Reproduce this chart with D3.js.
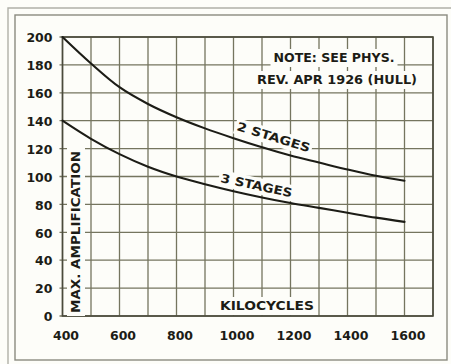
<!DOCTYPE html>
<html>
<head>
<meta charset="utf-8">
<script src="https://cdn.jsdelivr.net/npm/d3@7"></script>
<style>
  html, body { margin: 0; padding: 0; background: #fdfdf9; }
  svg { display: block; }
  text { font-family: "DejaVu Sans", sans-serif; font-weight: bold; fill: #1c1c16; }
</style>
</head>
<body>
<svg id="chart" width="451" height="364"></svg>
<script>
// Frequency (kilocycles) and maximum amplification for two and three stages
const freqs = [400, 500, 600, 700, 800, 900, 1000, 1100, 1200, 1300, 1400, 1500, 1600];
const twoStages = [200, 181, 164, 152, 142.5, 134.5, 127.5, 121, 115, 110, 105, 100.5, 97];
const threeStages = [140, 127, 116, 107, 100, 94.5, 89.5, 85, 81, 77.5, 74, 70.5, 67.5];
const xTickLabels = [400, 600, 800, 1000, 1200, 1400, 1600];
const yTickLabels = [0, 20, 40, 60, 80, 100, 120, 140, 160, 180, 200];
const xGrid = d3.range(400, 1701, 100);
const yGrid = d3.range(0, 201, 20);

const svg = d3.select("#chart");
const ink = "#1c1c16";
const gridColor = "#75755f";
const paper = "#fdfdf9";

// Frame lines around the figure
const frame = svg.append("g").attr("fill", "none").attr("stroke", "#8a8a80").attr("stroke-width", 1.4);
frame.append("rect").attr("x", 15).attr("y", 15).attr("width", 432).attr("height", 345);
frame.append("path").attr("d", "M8,364 L8,8 L451,8").attr("stroke", "#b0b0a8");

const x = d3.scaleLinear().domain([400, 1700]).range([62.5, 433]);
const y = d3.scaleLinear().domain([0, 200]).range([316, 37]);

// Grid
const grid = svg.append("g").attr("stroke", gridColor).attr("stroke-width", 1.3);
grid.selectAll("line.v").data(xGrid).join("line")
  .attr("x1", d => x(d)).attr("x2", d => x(d))
  .attr("y1", y(0)).attr("y2", y(200));
grid.selectAll("line.h").data(yGrid).join("line")
  .attr("x1", x(400) - 3).attr("x2", x(1700))
  .attr("y1", d => y(d)).attr("y2", d => y(d));

// Plot border a touch heavier
const axes = svg.append("g").attr("stroke", "#4a4a3c").attr("stroke-width", 1.6).attr("fill", "none");
axes.append("rect").attr("x", x(400)).attr("y", y(200))
  .attr("width", x(1700) - x(400)).attr("height", y(0) - y(200));

// Tick labels
const yAxis = d3.axisLeft(y).tickValues(yTickLabels).tickSize(0).tickPadding(10);
const yg = svg.append("g").attr("transform", `translate(${x(400)},0)`).call(yAxis);
yg.select(".domain").remove();
yg.selectAll("text").attr("font-size", 12.5).attr("font-family", "DejaVu Sans").attr("fill", ink)
  .attr("font-weight", "bold").attr("dy", "0.38em");

const xAxis = d3.axisBottom(x).tickValues(xTickLabels).tickSize(0).tickPadding(15).tickFormat(d3.format("d"));
const xg = svg.append("g").attr("transform", `translate(0,${y(0)})`).call(xAxis);
xg.select(".domain").remove();
xg.selectAll("text").attr("font-size", 12.5).attr("font-family", "DejaVu Sans").attr("fill", ink)
  .attr("font-weight", "bold").attr("dx", 3);

// Text with a blank backing that interrupts the grid
function label(g, opts) {
  const grp = g.append("g").attr("transform", opts.transform || null);
  const t = grp.append("text")
    .attr("x", opts.x).attr("y", opts.y)
    .attr("font-size", opts.size)
    .attr("text-anchor", opts.anchor || "start")
    .attr("textLength", opts.len)
    .attr("lengthAdjust", "spacingAndGlyphs")
    .text(opts.text);
  const b = t.node().getBBox();
  const p = opts.pad || 2;
  grp.insert("rect", "text")
    .attr("x", b.x - p).attr("y", b.y - p + 1)
    .attr("width", b.width + 2 * p).attr("height", b.height + 2 * p - 2)
    .attr("fill", paper);
  return grp;
}

const labels = svg.append("g");
label(labels, { text: "NOTE: SEE PHYS.", x: 334, y: 62, size: 11.5, anchor: "middle", len: 121, pad: 3 });
label(labels, { text: "REV. APR 1926 (HULL)", x: 337, y: 84, size: 11.5, anchor: "middle", len: 160, pad: 3 });
label(labels, { text: "KILOCYCLES", x: 267, y: 310, size: 11.5, anchor: "middle", len: 94, pad: 3 });
label(labels, { text: "MAX. AMPLIFICATION", x: -232, y: 80, size: 11.5, anchor: "middle", len: 162, pad: 3,
  transform: "rotate(-90)" });
label(labels, { text: "2 STAGES", x: 0, y: 0, size: 12, len: 76, pad: 2,
  transform: "translate(236,130) rotate(17)" });
label(labels, { text: "3 STAGES", x: 0, y: 0, size: 12, len: 73, pad: 2,
  transform: "translate(220,182) rotate(12)" });

// Curves
const line = d3.line().x(d => x(d[0])).y(d => y(d[1])).curve(d3.curveCatmullRom.alpha(0.5));
const curves = svg.append("g").attr("fill", "none").attr("stroke", ink).attr("stroke-width", 2.1)
  .attr("stroke-linecap", "round");
curves.append("path").attr("d", line(freqs.map((f, i) => [f, twoStages[i]])));
curves.append("path").attr("d", line(freqs.map((f, i) => [f, threeStages[i]])));
</script>
</body>
</html>
